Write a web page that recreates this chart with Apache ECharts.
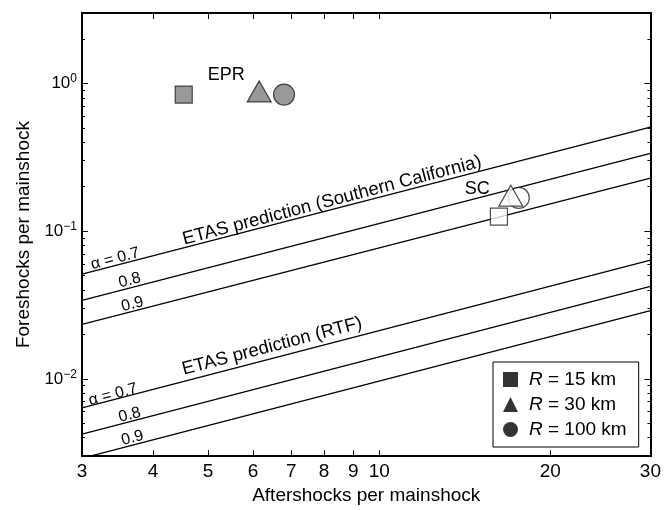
<!DOCTYPE html>
<html><head><meta charset="utf-8">
<script src="https://cdn.jsdelivr.net/npm/echarts@6/dist/echarts.min.js"></script>
<style>html,body{margin:0;padding:0;background:#fff}#c{width:664px;height:510px}</style>
</head><body><div id="c"></div>
<script>
// ---- axis ranges and ticks ----
const xRange = [3, 30];
const yRange = [0.003, 3];
const xTicks = [3, 4, 5, 6, 7, 8, 9, 10, 20, 30];
const yMajorTicks = [0.01, 0.1, 1];
const yMinorTicks = [0.003, 0.004, 0.005, 0.006, 0.007, 0.008, 0.009,
  0.02, 0.03, 0.04, 0.05, 0.06, 0.07, 0.08, 0.09,
  0.2, 0.3, 0.4, 0.5, 0.6, 0.7, 0.8, 0.9, 2, 3];

// ---- ETAS prediction lines (values at x = 3 and x = 30) ----
const lineX = [3, 30];
const etasSC_07 = [0.0512, 0.507];
const etasSC_08 = [0.034, 0.336];
const etasSC_09 = [0.0234, 0.229];
const etasRTF_07 = [0.00637, 0.0637];
const etasRTF_08 = [0.00423, 0.0423];
const etasRTF_09 = [0.0029, 0.029];

// ---- observations: [R=15, R=30, R=100] ----
const radii = ['R15', 'R30', 'R100'];
const radiusLabels = ['15', '30', '100'];
const eprX = [4.53, 6.15, 6.80];
const eprY = [0.841, 0.884, 0.841];
const scX = [16.24, 17.04, 17.6];
const scY = [0.1253, 0.174, 0.168];

// ---- text annotations ----
const annotations = [
  { text: 'EPR', at: [5.38, 1.148], rotate: 0, size: 18 },
  { text: 'SC', at: [14.88, 0.1935], rotate: 0, size: 18 },
  { text: 'ETAS prediction (Southern California)', at: [8.26, 0.161], rotate: 14.7, size: 18.5 },
  { text: 'ETAS prediction (RTF)', at: [6.48, 0.0166], rotate: 14.7, size: 18.5 },
  { text: 'α = 0.7', at: [3.43, 0.065], rotate: 14.7, size: 16 },
  { text: '0.8', at: [3.64, 0.0464], rotate: 14.7, size: 16 },
  { text: '0.9', at: [3.68, 0.032], rotate: 14.7, size: 16 },
  { text: 'α = 0.7', at: [3.40, 0.00782], rotate: 14.7, size: 16 },
  { text: '0.8', at: [3.64, 0.00569], rotate: 14.7, size: 16 },
  { text: '0.9', at: [3.68, 0.00398], rotate: 14.7, size: 16 }
];

const FONT = 'Liberation Sans, Arial, Helvetica, sans-serif';
const symbols = ['rect', 'triangle', 'circle'];
const symSizes = [[17, 17], [24, 21], [21, 21]];

const chart = echarts.init(document.getElementById('c'), null, { renderer: 'canvas' });

function lineSeries(vals) {
  return {
    type: 'line', xAxisIndex: 0, yAxisIndex: 0,
    data: lineX.map((x, i) => [x, vals[i]]),
    symbol: 'none', silent: true,
    lineStyle: { color: '#000', width: 1.3 }, z: 2
  };
}

const axisLine = { show: true, lineStyle: { color: '#000', width: 2 } };
function yAx(pos, ticks, len, labels) {
  return {
    type: 'log', min: yRange[0], max: yRange[1], position: pos,
    axisLine: axisLine, splitLine: { show: false },
    axisTick: { show: true, inside: true, length: len, customValues: ticks, lineStyle: { color: '#000', width: 1 } },
    axisLabel: labels ? {
      show: true, customValues: yMajorTicks, margin: 5,
      formatter: v => '{b|10}{s|' + String(Math.round(Math.log10(v))).replace('-', '−') + '}',
      rich: {
        b: { fontSize: 17, fontFamily: FONT, color: '#000' },
        s: { fontSize: 12, fontFamily: FONT, color: '#000', padding: [0, 0, 9, 0] }
      }
    } : { show: false },
    name: labels ? 'Foreshocks per mainshock' : '',
    nameLocation: 'middle', nameGap: 46,
    nameTextStyle: { fontSize: 19, fontFamily: FONT, color: '#000' }
  };
}

const pointSeries = radii.map((r, k) => ({
  name: r, type: 'scatter', xAxisIndex: 0, yAxisIndex: 0,
  symbol: symbols[k], symbolSize: symSizes[k],
  z: k === 2 ? 3 : 4,
  data: [
    { value: [eprX[k], eprY[k]], itemStyle: { color: '#808080', borderColor: '#222', borderWidth: 1.2 } },
    { value: [scX[k], scY[k]], itemStyle: { color: '#fff', borderColor: '#222', borderWidth: 1.2 } }
  ]
}));

const textSeries = {
  type: 'scatter', xAxisIndex: 0, yAxisIndex: 0, silent: true,
  symbolSize: 0, z: 5, itemStyle: { color: '#000', opacity: 1 },
  data: annotations.map(a => ({
    value: a.at, name: a.text,
    label: {
      show: true, position: 'inside', rotate: a.rotate, formatter: a.text,
      fontSize: a.size, fontFamily: FONT, color: '#000',
      textBorderWidth: 0, textBorderColor: 'transparent', opacity: 1
    }
  }))
};

chart.setOption({
  animation: false,
  backgroundColor: '#fff',
  grid: { left: 82, right: 11, top: 13, bottom: 47, containLabel: false },
  xAxis: [
    {
      type: 'log', min: xRange[0], max: xRange[1], position: 'bottom',
      axisLine: axisLine, splitLine: { show: false },
      axisTick: { show: true, inside: true, length: 6, customValues: xTicks, lineStyle: { color: '#000' } },
      axisLabel: { show: true, customValues: xTicks, margin: 6, formatter: v => String(Math.round(v)),
        fontSize: 19, fontFamily: FONT, color: '#000' },
      name: 'Aftershocks per mainshock', nameLocation: 'middle', nameGap: 26,
      nameTextStyle: { fontSize: 19, fontFamily: FONT, color: '#000' }
    },
    {
      type: 'log', min: xRange[0], max: xRange[1], position: 'top',
      axisLine: axisLine, splitLine: { show: false },
      axisTick: { show: true, inside: true, length: 6, customValues: xTicks, lineStyle: { color: '#000' } },
      axisLabel: { show: false }
    }
  ],
  yAxis: [
    yAx('left', yMajorTicks, 6, true),
    yAx('left', yMinorTicks, 3, false),
    yAx('right', yMajorTicks, 6, false),
    yAx('right', yMinorTicks, 3, false)
  ],
  legend: {
    orient: 'vertical', left: 493, top: 362,
    padding: [8, 12, 8, 10], itemGap: 6, itemWidth: 15, itemHeight: 15,
    borderColor: '#000', borderWidth: 1, backgroundColor: '#fff',
    data: radii.map((r, k) => ({ name: r, icon: symbols[k], itemStyle: { color: '#000', borderWidth: 0 } })),
    formatter: name => '{i|R} = ' + radiusLabels[radii.indexOf(name)] + ' km',
    textStyle: {
      fontSize: 19, fontFamily: FONT, color: '#000', padding: [0, 0, 0, 6],
      rich: { i: { fontSize: 19, fontFamily: FONT, fontStyle: 'italic', color: '#000' } }
    },
    selectedMode: false
  },
  series: [
    lineSeries(etasSC_07), lineSeries(etasSC_08), lineSeries(etasSC_09),
    lineSeries(etasRTF_07), lineSeries(etasRTF_08), lineSeries(etasRTF_09),
    ...pointSeries, textSeries
  ]
});
</script></body></html>
